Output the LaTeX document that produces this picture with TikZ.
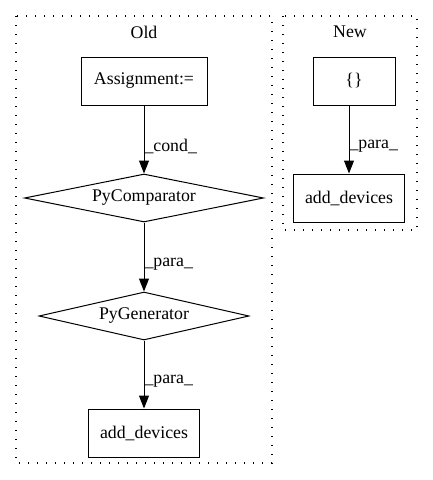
\documentclass[tikz,border=0pt]{standalone}
\usepackage{fontspec}
\setmainfont{Liberation Serif}
\usetikzlibrary{positioning,arrows.meta,shapes.geometric}
\tikzstyle{rbox}=[rectangle, draw=black, line width=1pt, minimum height=48pt,
                  inner sep=0pt, text centered, font=\fontsize{17.8}{21}\selectfont]
\tikzstyle{dbox}=[diamond, draw=black, line width=1pt, aspect=5, inner sep=0pt,
                  text centered, font=\fontsize{17.8}{21}\selectfont]
\tikzstyle{cluster}=[draw=black, line width=1.2pt, dash pattern=on 1.4pt off 7.6pt]
\tikzstyle{title}=[font=\fontsize{17.8}{21}\selectfont]
\tikzstyle{elabel}=[anchor=west, inner sep=0pt, font=\fontsize{17.8}{21}\selectfont]
\tikzstyle{pline}=[line width=1pt, -{Triangle[length=13pt,width=10pt]}]

\begin{document}
\begin{tikzpicture}[x=1pt,y=-1pt,node distance=0mm]
\useasboundingbox (0,0) rectangle (432,480);

% clusters
\draw[cluster] (16,16) rectangle (272,463);
\node (OLD) [title] at (144,32) {Old};
\draw[cluster] (283,16) rectangle (417,230);
\node (NEW) [title] at (350,32) {New};

% old
\node (ASSIGN) [rbox, minimum width=126pt] at (144,81) {Assignment:=};
\node (PYCOMP) [dbox, minimum width=239pt, minimum height=48pt,
below=68pt of ASSIGN] {PyComparator};
\node (PYGEN) [dbox, minimum width=210pt, minimum height=48pt,
below=69pt of PYCOMP] {PyGenerator};
\node (ADDOLD) [rbox, minimum width=111pt,
below=68pt of PYGEN] {add\_devices};

% new
\node (BRACE) [rbox, minimum width=82pt] at (354,81) {\{\}};
\node (ADDNEW) [rbox, minimum width=111pt,
below=68pt of BRACE, xshift=-5pt] {add\_devices};

 \draw[pline]   (ASSIGN) -- node[elabel, pos=0.6] {\_cond\_} (PYCOMP);
 \draw[pline]   (PYCOMP) -- node[elabel, pos=0.6] {\_para\_} (PYGEN);
 \draw[pline]   (PYGEN) -- node[elabel, pos=0.6] {\_para\_} (ADDOLD);
 \draw[pline]   (BRACE.south -| ADDNEW) -- node[elabel, pos=0.6] {\_para\_} (ADDNEW);

\end{tikzpicture}
\end{document}
